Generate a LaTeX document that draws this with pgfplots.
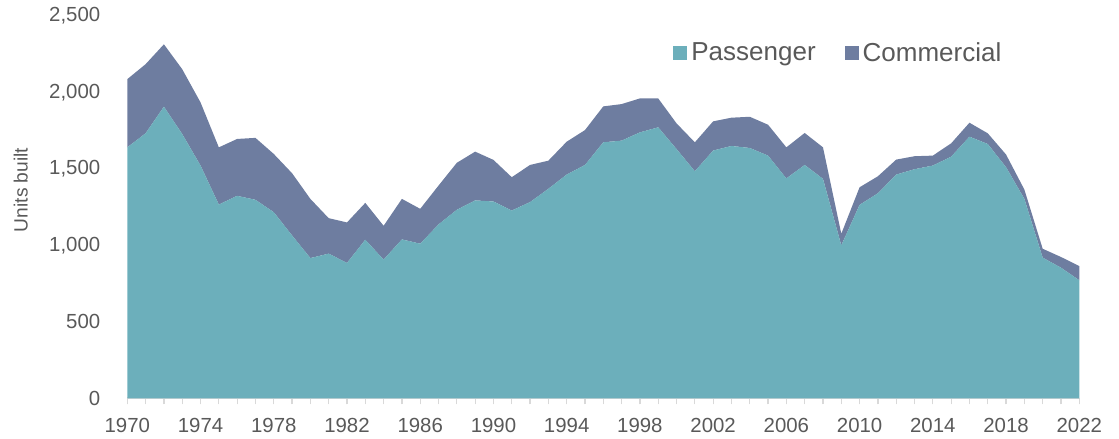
\documentclass[border=0pt]{standalone}
\usepackage{fontspec}
\setmainfont{Liberation Sans}
\usepackage{pgfplots}
\usepackage{pgfplotstable}
\pgfplotsset{compat=1.18}

\definecolor{pass}{HTML}{6CAFBB}
\definecolor{comm}{HTML}{6E7DA0}
\definecolor{txt}{HTML}{595959}
\definecolor{axl}{HTML}{D9D9D9}

% year, passenger, commercial (units built)
\pgfplotstableread{
year pass comm
1970 1641 446
1971 1733 452
1972 1907 408
1973 1728 424
1974 1522 413
1975 1267 374
1976 1324 372
1977 1298 405
1978 1217 381
1979 1065 407
1980 917 387
1981 946 232
1982 885 265
1983 1037 241
1984 907 221
1985 1039 265
1986 1011 228
1987 1137 254
1988 1233 307
1989 1294 319
1990 1287 272
1991 1228 218
1992 1283 243
1993 1370 184
1994 1463 215
1995 1526 228
1996 1674 235
1997 1685 239
1998 1739 222
1999 1772 189
2000 1630 168
2001 1485 189
2002 1620 191
2003 1650 185
2004 1637 204
2005 1587 202
2006 1438 203
2007 1526 209
2008 1435 206
2009 1000 76
2010 1265 115
2011 1341 111
2012 1463 98
2013 1498 85
2014 1522 65
2015 1580 87
2016 1711 91
2017 1663 70
2018 1511 83
2019 1304 61
2020 920 58
2021 854 70
2022 772 93
}\units

\begin{document}
\begin{tikzpicture}
\path[use as bounding box] (-63.65pt,-20.35pt) rectangle (495.85pt,199.15pt);
\begin{axis}[
  at={(0,0)}, anchor=south west,
  scale only axis, width=476pt, height=191.15pt,
  xmin=1970, xmax=2022, ymin=0, ymax=2500,
  stack plots=y,
  axis x line*=bottom, axis y line*=left,
  x axis line style={draw=axl, line width=1pt, -},
  y axis line style={draw=none},
  xtick={1970,1974,...,2022},
  minor xtick={1970,1971,...,2022},
  xtick align=outside, xtick pos=bottom,
  major tick length=3pt, minor tick length=3pt,
  every tick/.style={draw=axl, line width=0.6pt},
  ytick style={draw=none},
  xticklabel style={/pgf/number format/1000 sep={}, yshift=-3.5pt},
  ytick={0,500,...,2500},
  yticklabel style={xshift=-10pt},
  /pgf/number format/assume math mode=true,
  /pgf/number format/1000 sep={,},
  tick label style={font=\fontsize{10.2}{12}\selectfont, text=txt},
  ylabel={Units built},
  ylabel style={at={(axis description cs:-0.112,0.545)}, anchor=center, font=\fontsize{9.6}{11}\selectfont, text=txt},
  legend columns=2,
  legend style={at={(rel axis cs:0.748,0.902)}, anchor=center, draw=none, fill=none,
    font=\fontsize{13}{15}\selectfont, text=txt,
    /tikz/every even column/.append style={column sep=12.5pt}},
  legend image code/.code={\fill[#1] (0pt,-3.5pt) rectangle (7pt,3.5pt);},
]
\addplot[fill=pass, draw=none] table[x=year, y=pass] {\units} \closedcycle;
\addplot[fill=comm, draw=none] table[x=year, y=comm] {\units} \closedcycle;
\legend{Passenger, Commercial}
\end{axis}
\end{tikzpicture}
\end{document}
